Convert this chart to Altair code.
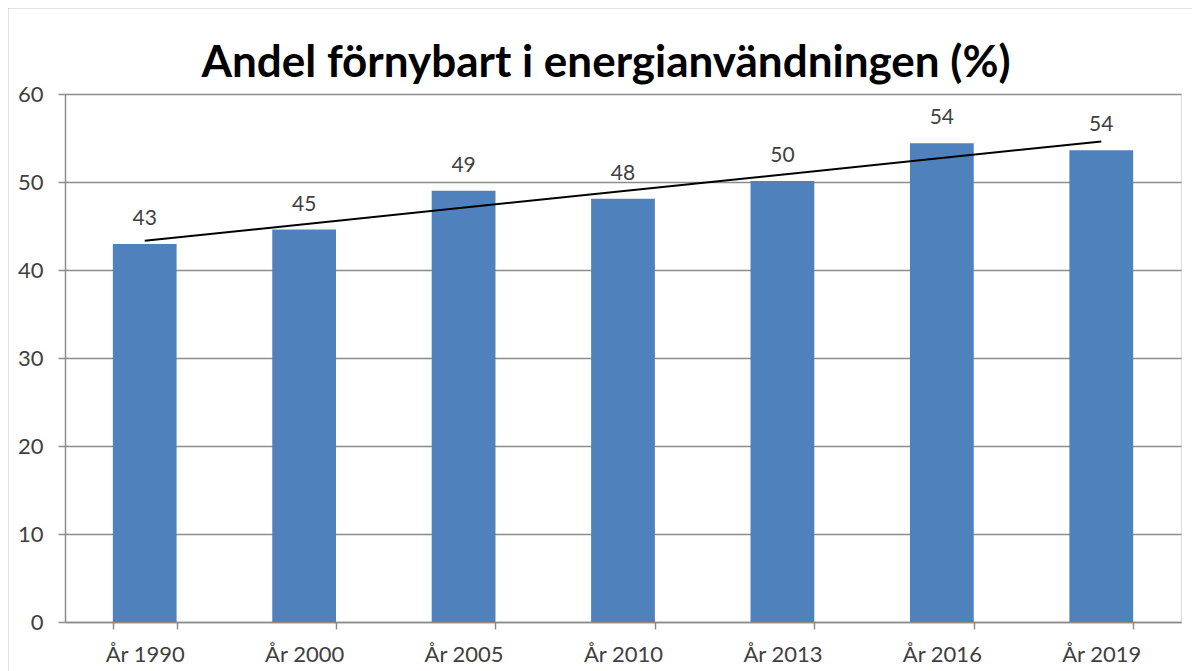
import altair as alt
import pandas as pd

categories = ["År 1990", "År 2000", "År 2005", "År 2010", "År 2013", "År 2016", "År 2019"]
values = [42.95, 44.6, 49.0, 48.1, 50.1, 54.4, 53.6]
positions = [1, 2, 3, 4, 5, 6, 7]

df = pd.DataFrame({"cat": categories, "value": values, "pos": positions})

FONT = "Lato"
TXT = "#404040"
GRID = "#8c8c8c"
BAR = "#4F81BD"

base = alt.Chart(df)

x_band = alt.X(
    "cat:N",
    sort=categories,
    title=None,
    scale=alt.Scale(paddingInner=0.6, paddingOuter=0.3),
    axis=alt.Axis(
        labelAngle=0,
        labelFont=FONT,
        labelFontSize=22,
        labelColor=TXT,
        labelPadding=15,
        tickBand="extent",
        tickSize=7,
        tickColor=GRID,
        domainColor=GRID,
        domainWidth=1.5,
        tickWidth=1.5,
        grid=False,
    ),
)

y_axis = alt.Y(
    "value:Q",
    title=None,
    scale=alt.Scale(domain=[0, 60]),
    axis=alt.Axis(
        values=[0, 10, 20, 30, 40, 50, 60],
        labelFont=FONT,
        labelFontSize=22,
        labelColor=TXT,
        labelPadding=15,
        tickSize=7,
        tickColor=GRID,
        domainColor=GRID,
        domainWidth=1.5,
        tickWidth=1.5,
        gridColor=GRID,
        gridWidth=1.5,
    ),
)

bars = base.mark_bar(color=BAR).encode(x=x_band, y=y_axis)

labels = base.mark_text(
    font=FONT, fontSize=21, color=TXT, dy=-25, baseline="middle"
).encode(
    x=alt.X("cat:N", sort=categories),
    y=alt.Y("value:Q"),
    text=alt.Text("value:Q", format=".0f"),
)

trend = (
    base.transform_regression("pos", "value", method="linear", extent=[1, 7])
    .mark_line(color="#000000", strokeWidth=2)
    .encode(
        x=alt.X("pos:Q", scale=alt.Scale(domain=[0.5, 7.5]), axis=None),
        y=alt.Y("value:Q"),
    )
)

frame = alt.Chart(pd.DataFrame({"f": [0]})).mark_rect(
    fill="transparent", stroke="#8a8a8a", strokeWidth=2.5
).encode(
    x=alt.value(-58), x2=alt.value(1200), y=alt.value(-87), y2=alt.value(700)
)

bar_layer = alt.layer(bars, labels)

chart = (
    alt.layer(frame, bar_layer, trend)
    .resolve_scale(x="independent", y="shared")
    .properties(
        width=1116,
        height=528,
        padding={"left": 57, "top": 86, "right": 11, "bottom": 49},
        autosize=alt.AutoSizeParams(type="none"),
        title=alt.TitleParams(
            "Andel förnybart i energianvändningen (%)",
            font=FONT,
            fontSize=44,
            fontWeight="bold",
            color="#000000",
            anchor="middle",
            frame="group",
            dx=-17,
            offset=-80,
        ),
    )
    .configure_view(strokeWidth=0)
    .configure(background="white")
)

chart.save("out.html", embed_options={"renderer": "svg", "actions": False})
